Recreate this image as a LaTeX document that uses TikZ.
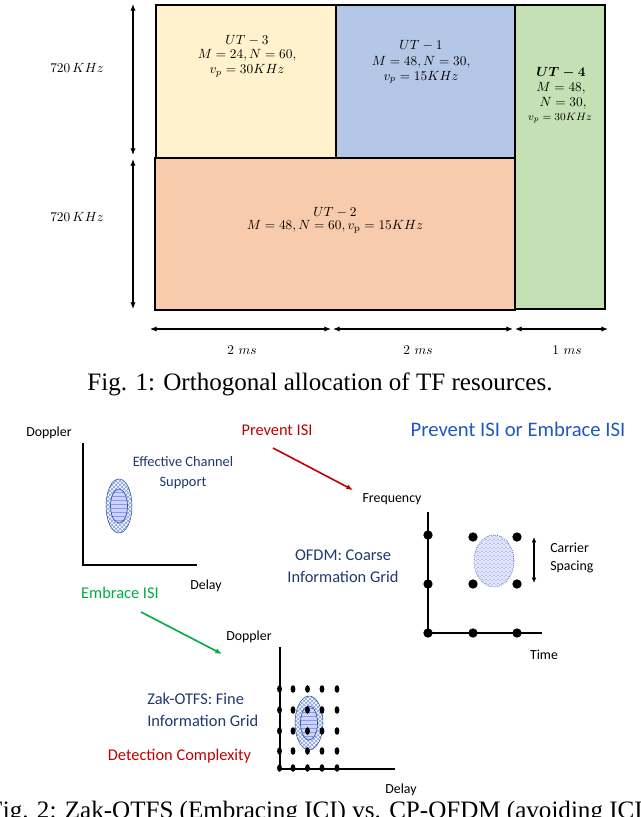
\documentclass[tikz,border=0pt]{standalone}
\usepackage{fontspec}
\usepackage{amsmath}
\usetikzlibrary{arrows.meta,patterns}
\newfontfamily\carlito{Carlito}
\newfontfamily\capfont{Liberation Serif}
\definecolor{utyellow}{RGB}{255,242,204}
\definecolor{utblue}{RGB}{180,199,231}
\definecolor{utgreen}{RGB}{197,224,180}
\definecolor{utorange}{RGB}{248,203,173}
\definecolor{navytext}{RGB}{31,56,110}
\definecolor{redtext}{RGB}{192,0,0}
\definecolor{bluetext}{RGB}{32,86,200}
\definecolor{greentext}{RGB}{0,170,70}
\definecolor{hatch}{RGB}{130,160,225}
\definecolor{hatchdark}{RGB}{50,80,160}
\begin{document}
\begin{tikzpicture}[x=0.75pt,y=-0.75pt,
  ubox/.style={draw=black, line width=2.2pt},
  mtext/.style={anchor=base, inner sep=0pt, font=\fontsize{10.4}{12}\selectfont},
  dimarrow/.style={line width=0.9pt, {Latex[length=5pt,width=4pt]}-{Latex[length=5pt,width=4pt]}},
  lbl/.style={font=\carlito\fontsize{10.4}{14}\selectfont, inner sep=0pt},
  lblmid/.style={font=\carlito\fontsize{12.3}{16.5}\selectfont, inner sep=0pt, align=center},
  lblbig/.style={font=\carlito\fontsize{15.5}{18}\selectfont, inner sep=0pt},
  capt/.style={font=\capfont\fontsize{18.8}{22}\selectfont, inner sep=0pt, anchor=base},
  axisline/.style={line width=2.1pt},
  bigdot/.style={circle, fill=black, inner sep=0pt, minimum size=7pt},
  outerell/.style={draw=hatchdark, line width=0.4pt, preaction={fill=blue!4}, pattern=crosshatch, pattern color=hatch},
  innerell/.style={draw=hatchdark, line width=0.5pt, preaction={fill=blue!18}, pattern=horizontal lines, pattern color=hatch},
  colarrow/.style={line width=1.2pt, -{Latex[length=5pt,width=4pt]}}
]
\useasboundingbox (0,0) rectangle (640,817);

% ---------- Fig. 1 ----------
\filldraw[ubox, fill=utyellow] (156,5) rectangle (336,158);
\filldraw[ubox, fill=utblue] (336,5) rectangle (515,158);
\filldraw[ubox, fill=utorange] (155,158) rectangle (515,310);
\filldraw[ubox, fill=utgreen] (515,5) rectangle (605,309);

\node[mtext] (ut3a) at (247,45) {$UT-3$};
\node[mtext] (ut3b) at (247,59) {$M=24, N=60,$};
\node[mtext] (ut3c) at (247,74) {$v_p=30KHz$};

\node[mtext] (ut1a) at (421,50) {$UT-1$};
\node[mtext] (ut1b) at (421,65) {$M=48, N=30,$};
\node[mtext] (ut1c) at (421,80) {$v_p=15KHz$};

\node[mtext] (ut4a) at (561,76) {$\boldsymbol{UT-4}$};
\node[mtext] (ut4b) at (561,91) {$M=48,$};
\node[mtext] (ut4c) at (563,106) {$N=30,$};
\node[mtext, font=\fontsize{8}{9}\selectfont] (ut4d) at (560,120) {$v_p=30KHz$};

\node[mtext] (ut2a) at (335,216) {$UT-2$};
\node[mtext] (ut2b) at (335,229) {$M=48, N=60, v_{\mathrm{p}}=15KHz$};

\coordinate (v1t) at (133,4);
\coordinate (v1b) at (133,155);
\coordinate (v2t) at (133,159);
\coordinate (v2b) at (133,309);
\draw[dimarrow] (v1t) -- (v1b);
\draw[dimarrow] (v2t) -- (v2b);
\node[inner sep=0pt, font=\fontsize{10.4}{12}\selectfont] (f1) at (77,68) {$720\,KHz$};
\node[inner sep=0pt, font=\fontsize{10.4}{12}\selectfont] (f2) at (77,217) {$720\,KHz$};

\coordinate (h0) at (150,329);
\coordinate (h1a) at (331,329);
\coordinate (h1b) at (333,329);
\coordinate (h2a) at (513,329);
\coordinate (h2b) at (515,329);
\coordinate (h3) at (608,329);
\draw[dimarrow] (h0) -- (h1a);
\draw[dimarrow] (h1b) -- (h2a);
\draw[dimarrow] (h2b) -- (h3);
\node[inner sep=0pt, font=\fontsize{10.4}{12}\selectfont] (t1) at (242,350) {$2\ ms$};
\node[inner sep=0pt, font=\fontsize{10.4}{12}\selectfont] (t2) at (418,350) {$2\ ms$};
\node[inner sep=0pt, font=\fontsize{10.4}{12}\selectfont] (t3) at (567,350) {$1\ ms$};

\node[capt] (cap1) at (320,390) {Fig. 1: Orthogonal allocation of TF resources.};

% ---------- Fig. 2 ----------
% left DD plot
\node[lbl] (dop1) at (49,433) {Doppler};
\coordinate (a1t) at (83,443);
\coordinate (a1o) at (83,565);
\coordinate (a1r) at (197,565);
\draw[axisline] (a1t) -- (a1o) -- (a1r);
\path[outerell] (119,506) ellipse [x radius=13, y radius=27];
\path[innerell] (119,506) ellipse [x radius=8.5, y radius=17];
\node[lbl, text=navytext, align=center, font=\carlito\fontsize{10.8}{15}\selectfont] (ecs) at (183,473) {Effective Channel\\Support};
\node[lbl] (delay1) at (206,586) {Delay};
\node[lblmid, text=greentext] (emb) at (120,593) {Embrace ISI};

% titles
\node[lblmid, text=redtext] (prev) at (277,430) {Prevent ISI};
\node[lblbig, text=bluetext] (poe) at (518,429) {Prevent ISI or Embrace ISI};
\coordinate (rs) at (273,448);
\coordinate (re) at (353,490);
\draw[colarrow, draw=redtext] (rs) -- (re);

% OFDM TF plot
\node[lbl] (freq) at (392,499) {Frequency};
\coordinate (a2t) at (428,512);
\coordinate (a2o) at (428,633);
\coordinate (a2r) at (542,633);
\draw[axisline] (a2t) -- (a2o) -- (a2r);
\path[draw=hatchdark, densely dotted, line width=0.5pt, preaction={fill=blue!8}, pattern=crosshatch, pattern color=hatch] (494,561) ellipse [x radius=20, y radius=26];
\foreach \p/\q [count=\i] in {428/535, 428/584, 428/633, 473/633, 517/633, 473/537, 517/537, 473/584, 517/584}
  \node[bigdot] (od\i) at (\p,\q) {};
\coordinate (cs1) at (534,537);
\coordinate (cs2) at (534,583);
\draw[line width=0.8pt, {Latex[length=4pt,width=3.5pt]}-{Latex[length=4pt,width=3.5pt]}] (cs1) -- (cs2);
\node[lbl, align=left, anchor=west] (cs) at (550,558) {Carrier\\Spacing};
\node[lblmid, text=navytext] (ofdm) at (343,566) {OFDM: Coarse\\Information Grid};
\node[lbl] (time) at (544,655) {Time};

% Zak-OTFS DD plot
\coordinate (gs) at (141,612);
\coordinate (ge) at (222,654);
\draw[colarrow, draw=greentext] (gs) -- (ge);
\node[lbl] (dop2) at (249,637) {Doppler};
\coordinate (a3t) at (280,647);
\coordinate (a3o) at (280,769);
\coordinate (a3r) at (395,769);
\draw[axisline] (a3t) -- (a3o) -- (a3r);
\path[outerell] (309,723) ellipse [x radius=14, y radius=27];
\path[innerell] (309,723) ellipse [x radius=8.5, y radius=17];
\foreach \p in {279.5,293,307.5,322,337}
  \foreach \q in {689,710,731,751,768}
    \fill (\p,\q) ellipse [x radius=2.4, y radius=3.8];
\node[lblmid, text=navytext, align=left, anchor=west] (zak) at (147,710) {Zak-OTFS: Fine\\Information Grid};
\node[lblmid, text=redtext] (det) at (179.5,756) {Detection Complexity};
\node[lbl] (delay2) at (401,790) {Delay};

\node[capt] (cap2) at (320,818) {Fig. 2: Zak-OTFS (Embracing ICI) vs. CP-OFDM (avoiding ICI)};
\end{tikzpicture}
\end{document}
